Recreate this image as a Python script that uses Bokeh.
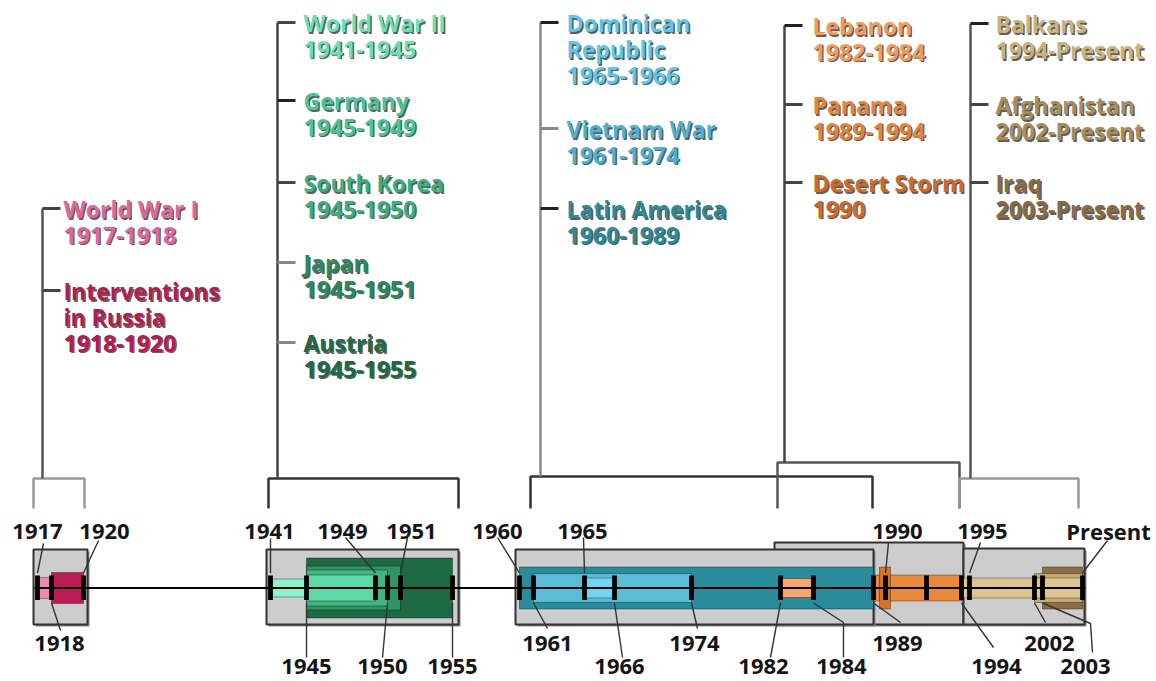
import numpy as np
from bokeh.plotting import figure
from bokeh.models import Range1d, ColumnDataSource
from bokeh.embed import file_html
from bokeh.resources import INLINE
from bokeh.core.properties import value

# ---------------- data ----------------
conflicts = ["World War I", "Interventions in Russia", "World War II", "Germany",
             "South Korea", "Japan", "Austria", "Dominican Republic", "Vietnam War",
             "Latin America", "Lebanon", "Panama", "Desert Storm", "Balkans",
             "Afghanistan", "Iraq"]
start_year = [1917, 1918, 1941, 1945, 1945, 1945, 1945, 1965, 1961, 1960,
              1982, 1989, 1990, 1994, 2002, 2003]
PRESENT = 2008
end_year = [1918, 1920, 1945, 1949, 1950, 1951, 1955, 1966, 1974, 1989,
            1984, 1994, 1990, PRESENT, PRESENT, PRESENT]
period_labels = ["1917-1918", "1918-1920", "1941-1945", "1945-1949", "1945-1950",
                 "1945-1951", "1945-1955", "1965-1966", "1961-1974", "1960-1989",
                 "1982-1984", "1989-1994", "1990", "1994-Present", "2002-Present",
                 "2003-Present"]
conflict_group = [0, 0, 1, 1, 1, 1, 1, 2, 2, 2, 3, 3, 3, 4, 4, 4]
group_start = [1917, 1941, 1960, 1982, 1994]
group_end = [1920, 1955, 1989, 1994, PRESENT]

tick_years = [1917, 1918, 1920, 1941, 1945, 1949, 1950, 1951, 1955, 1960, 1961,
              1965, 1966, 1974, 1982, 1984, 1989, 1990, 1991, 1994, 1995, 2002,
              2003, PRESENT]
tick_labels = ["1917", "1918", "1920", "1941", "1945", "1949", "1950", "1951",
               "1955", "1960", "1961", "1965", "1966", "1974", "1982", "1984",
               "1989", "1990", "", "1994", "1995", "2002", "2003", "Present"]

# ---------------- timeline scale (piecewise, hand-drawn axis) ----------------
scale_years = tick_years
scale_px = [37, 51, 83, 270, 306, 375, 387, 400, 452, 519, 533, 584, 614, 691,
            780, 813, 873, 885, 926, 961, 969, 1034, 1042, 1082]


def X(y):
    return np.interp(y, scale_years, scale_px)


# ---------------- styles / layout ----------------
bar_colors = ["#ee88b4", "#bc1c56", "#88f2c8", "#5fd9aa", "#44b384", "#2e9464",
              "#1e6a44", "#74d3f0", "#5bbcd8", "#2a8b9a", "#f7a66c", "#e8893d",
              "#d4712b", "#dcc590", "#c6aa74", "#8e6e45"]
text_colors = ["#e0679c", "#b51a50", "#6ddfb2", "#4cc596", "#3fae7e", "#2a8a5c",
               "#1e6a44", "#5ec6e8", "#4db2d0", "#2a8b9a", "#f29a5c", "#e3843a",
               "#cf6a26", "#cbb27c", "#a88c5a", "#8a6a42"]
half_h = [10.5, 15.5, 9, 13, 18, 22, 30, 10, 14.5, 21, 9.5, 13, 21, 10, 14.5, 21]
draw_order = [0, 1, 2, 6, 5, 4, 3, 9, 8, 7, 10, 11, 12, 15, 14, 13]
AXIS_Y = 587.5
TEXT_DY = -10.5   # compensate the svg text baseline offset
wrap = {"Interventions in Russia": ["Interventions", "in Russia"],
        "Dominican Republic": ["Dominican", "Republic"]}
label_y = [208, 290, 22, 100, 182, 262, 342, 22, 128, 208, 25, 104, 182, 23, 104, 182]
label_tick_col = ["#444", "#444", "#444", "#222", "#444", "#888", "#888", "#222",
                  "#888", "#222", "#222", "#444", "#444", "#222", "#444", "#444"]

box_pad_l = [4, 4, 4, 6, -2]
box_pad_r = [4, 6, 0, 2, 2]
box_top = [549, 549, 549, 542, 548]
box_bottom = 624
box_order = [0, 1, 3, 4, 2]
stem_off = [5, 7, 21, 4, 9]
text_off = [21, 26, 26, 28, 25]
bracket_y = [478, 478, 476, 462, 478]
bracket_l = [-4, -2, 11, -3, -2]
bracket_r = [1, 6, -1, -2, -4]
bracket_col = ["#999", "#333", "#333", "#555", "#999"]
stem_col = ["#555", "#444", "#888", "#444", "#555"]
LEG_Y = 508

year_label_pos = {1917: (37, 541), 1918: (59, 653), 1920: (104, 541),
                  1941: (269, 541), 1945: (306, 676), 1949: (342, 541),
                  1950: (382, 676), 1951: (411, 541), 1955: (452, 676),
                  1960: (497, 541), 1961: (547, 653), 1965: (582, 541),
                  1966: (619, 676), 1974: (694, 653), 1982: (763, 676),
                  1984: (841, 676), 1989: (897, 653), 1990: (897, 541),
                  1994: (996, 676), 1995: (982, 541), 2002: (1049, 653),
                  2003: (1085, 676), PRESENT: (1108, 541)}
leader_pts = {1917: [(43, 543)], 1920: [(98, 540)], 1941: [(270, 538)],
              1949: [(345, 537)], 1951: [(407, 537)], 1960: [(497, 537)],
              1965: [(583, 537)], 1990: [(888, 542)], 1995: [(980, 542)],
              PRESENT: [(1107, 540)], 1918: [(60, 630)], 1945: [(306, 657)],
              1950: [(382, 657)], 1955: [(452, 657)], 1961: [(547, 628)],
              1966: [(622, 657)], 1974: [(697, 628)], 1982: [(770, 657)],
              1984: [(843, 622), (843, 657)], 1989: [(900, 622)],
              1994: [(993, 647)], 2002: [(1045, 622)],
              2003: [(1090, 623), (1092, 652)]}

FONT = value("Open Sans")

p = figure(width=1156, height=681, x_range=Range1d(0, 1156), y_range=Range1d(681, 0),
           output_backend="svg", toolbar_location=None, min_border=0,
           x_axis_type=None, y_axis_type=None)
p.grid.visible = False
p.outline_line_color = None

# ---- group boxes ----
for g in box_order:
    l = X(group_start[g]) - box_pad_l[g]
    r = X(group_end[g]) + box_pad_r[g]
    p.quad(left=[l + 2], right=[r + 2], top=[box_top[g] + 2], bottom=[box_bottom + 2],
           fill_color="#8a8a8a", line_color=None)
    p.quad(left=[l], right=[r], top=[box_top[g]], bottom=[box_bottom],
           fill_color="#cdcdcd", line_color="#333333", line_width=2)

# ---- conflict bars ----
lefts, rights, tops, bottoms, cols = [], [], [], [], []
for i in draw_order:
    l, r = X(start_year[i]), X(end_year[i])
    if start_year[i] == end_year[i]:
        l, r = l - 6, r + 5
    lefts.append(l); rights.append(r)
    tops.append(AXIS_Y - half_h[i]); bottoms.append(AXIS_Y + half_h[i])
    cols.append(bar_colors[i])
p.quad(left=lefts, right=rights, top=tops, bottom=bottoms, fill_color=cols,
       line_color="#000000", line_alpha=0.35, line_width=1)

# ---- axis line ----
p.segment(x0=[X(tick_years[0]) - 3], x1=[X(PRESENT) + 3], y0=[AXIS_Y], y1=[AXIS_Y],
          line_color="black", line_width=2)

# ---- ticks ----
tx = X(tick_years)
p.quad(left=tx - 2.4, right=tx + 2.4, top=[AXIS_Y - 12.5] * len(tx),
       bottom=[AXIS_Y + 12] * len(tx), fill_color="black", line_color=None)

# ---- leaders and year labels ----
xs_l, ys_l = [], []
ylx, yly, ylt = [], [], []
for yr, lab in zip(tick_years, tick_labels):
    if not lab:
        continue
    cx, by = year_label_pos[yr]
    above = by < AXIS_Y
    sx, sy = X(yr), (AXIS_Y - 15 if above else AXIS_Y + 15)
    pts = [(sx, sy)] + leader_pts[yr]
    xs_l.append([q[0] for q in pts]); ys_l.append([q[1] for q in pts])
    ylx.append(cx); yly.append(by + TEXT_DY); ylt.append(lab)
p.multi_line(xs=xs_l, ys=ys_l, line_color="#333333", line_width=1.4)
p.text(x=ylx, y=yly, text=ylt, text_font=FONT, text_font_size="22px",
       text_font_style="bold", text_align="center", text_baseline="alphabetic",
       text_color="#151515")

# ---- stems and brackets ----
for g in range(5):
    members = [i for i in range(len(conflicts)) if conflict_group[i] == g]
    sx = X(group_start[g]) + stem_off[g]
    top = min(label_y[i] for i in members)
    bl = X(group_start[g]) + bracket_l[g]
    br = X(group_end[g]) + bracket_r[g]
    by = bracket_y[g]
    p.multi_line(xs=[[bl, bl, br, br]], ys=[[LEG_Y, by, by, LEG_Y]],
                 line_color=bracket_col[g], line_width=2.5)
    p.segment(x0=[sx], x1=[sx], y0=[top], y1=[by], line_color=stem_col[g], line_width=2.5)
    for i in members:
        p.segment(x0=[sx], x1=[sx + 18], y0=[label_y[i]], y1=[label_y[i]],
                  line_color=label_tick_col[i], line_width=3)

# ---- conflict labels ----
lx, ly, lt, lc = [], [], [], []
for i, name in enumerate(conflicts):
    g = conflict_group[i]
    x0 = X(group_start[g]) + stem_off[g] + text_off[g]
    lines = wrap.get(name, [name]) + [period_labels[i]]
    for k, s in enumerate(lines):
        lx.append(x0); ly.append(label_y[i] + 11 + 26 * k + TEXT_DY); lt.append(s)
        lc.append(text_colors[i])
src_sh = ColumnDataSource(dict(x=[v + 1.5 for v in lx], y=[v + 1.5 for v in ly], text=lt))
p.text(x="x", y="y", text="text", source=src_sh, text_font=FONT, text_font_size="23px",
       text_font_style="bold", text_color="#333333", text_alpha=0.8,
       text_baseline="alphabetic")
src = ColumnDataSource(dict(x=lx, y=ly, text=lt, c=lc))
p.text(x="x", y="y", text="text", source=src, text_font=FONT, text_font_size="23px",
       text_font_style="bold", text_color="c", text_baseline="alphabetic")

open("out.html", "w").write(file_html(p, INLINE))
